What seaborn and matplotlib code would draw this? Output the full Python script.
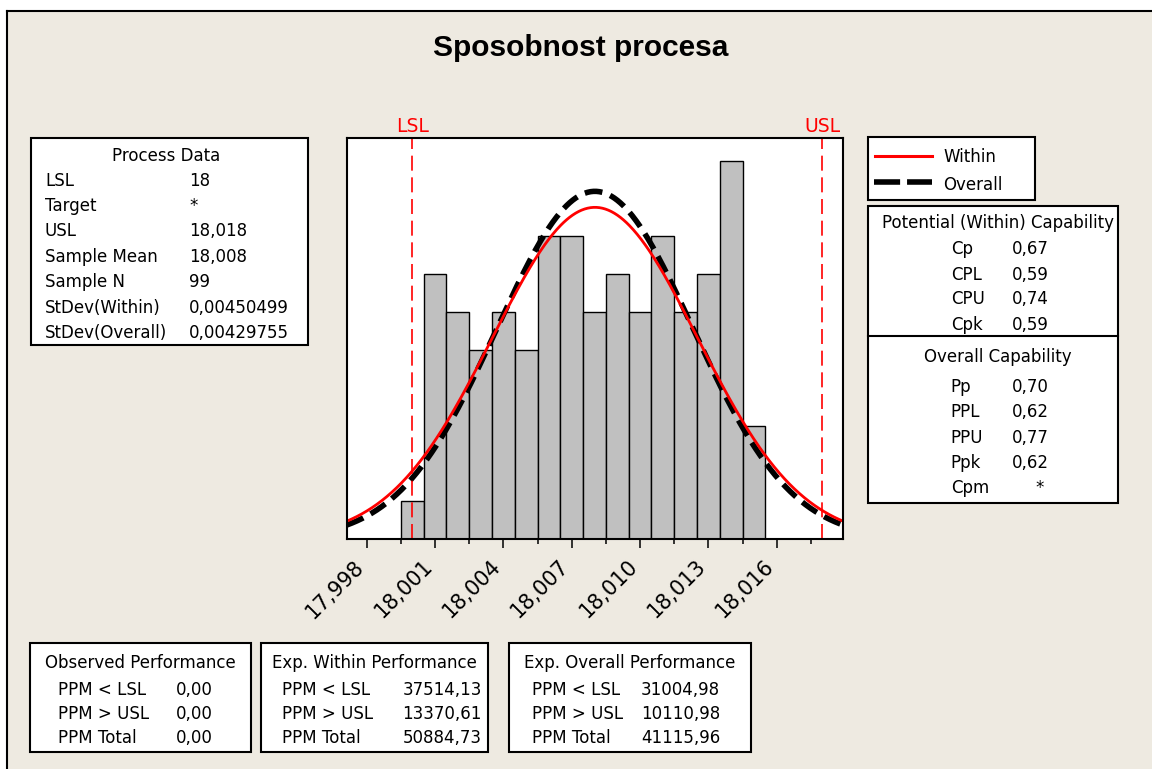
import numpy as np
import pandas as pd
import matplotlib
matplotlib.use("Agg")
import matplotlib.pyplot as plt
import seaborn as sns
from matplotlib.patches import Rectangle
from matplotlib.lines import Line2D
from matplotlib.transforms import ScaledTranslation

# ---- measured data: histogram of the 99 diameters ----
bin_centers = [18.000, 18.001, 18.002, 18.003, 18.004, 18.005, 18.006, 18.007,
               18.008, 18.009, 18.010, 18.011, 18.012, 18.013, 18.014, 18.015]
counts = [1, 7, 6, 5, 6, 5, 8, 8, 6, 7, 6, 8, 6, 7, 10, 3]
bin_width = 0.001

# ---- process statistics ----
lsl = 18.0
usl = 18.018
sample_mean = 18.00802
sample_n = 99
sd_within = 0.00450499
sd_overall = 0.00429755

process_labels = ["LSL", "Target", "USL", "Sample Mean", "Sample N",
                  "StDev(Within)", "StDev(Overall)"]
process_values = [f"{lsl:g}", "*", f"{usl:.3f}", f"{sample_mean:.3f}",
                  f"{sample_n}", f"{sd_within:.8f}", f"{sd_overall:.8f}"]

within_labels = ["Cp", "CPL", "CPU", "Cpk"]
within_values = [0.67, 0.59, 0.74, 0.59]
overall_labels = ["Pp", "PPL", "PPU", "Ppk", "Cpm"]
overall_values = [0.70, 0.62, 0.77, 0.62, None]

ppm_rows = ["PPM < LSL", "PPM > USL", "PPM Total"]
observed_ppm = [0.00, 0.00, 0.00]
within_ppm = [37514.13, 13370.61, 50884.73]
overall_ppm = [31004.98, 10110.98, 41115.96]

major_ticks = [17.998, 18.001, 18.004, 18.007, 18.010, 18.013, 18.016]
minor_ticks = [17.9995, 18.0025, 18.0055, 18.0085, 18.0115, 18.0145, 18.0175]


def comma(s):
    return s.replace(".", ",")


# ---- figure layout (pixel based) ----
W, H = 1152, 769
BG = "#EEEAE1"
FS = 12
plt.rcParams["font.family"] = ["DejaVu Sans"]

fig = plt.figure(figsize=(W / 100, H / 100), dpi=100, facecolor=BG)


def fx(x):
    return x / W


def fy(y):
    return 1 - y / H


ax_l, ax_r, ax_t, ax_b = 347, 843, 138, 539
ax = fig.add_axes([fx(ax_l), fy(ax_b), (ax_r - ax_l) / W, (ax_b - ax_t) / H])
ax.set_facecolor("white")

# histogram
edges = [c - bin_width / 2 for c in bin_centers] + [bin_centers[-1] + bin_width / 2]
hist_df = pd.DataFrame({"value": bin_centers, "count": counts})
sns.histplot(data=hist_df, x="value", weights="count", bins=edges, ax=ax,
             color="#C0C0C0", edgecolor="black", linewidth=1.0, alpha=1.0)

# fitted normal curves scaled to counts
x_lo, x_hi = 17.997135, 18.01891
xs = np.linspace(x_lo, x_hi, 500)


def normal_counts(sd):
    return sample_n * bin_width * np.exp(-0.5 * ((xs - sample_mean) / sd) ** 2) / (sd * np.sqrt(2 * np.pi))


curve_df = pd.DataFrame({"x": xs, "overall": normal_counts(sd_overall),
                         "within": normal_counts(sd_within)})
sns.lineplot(data=curve_df, x="x", y="overall", ax=ax, color="black",
             linewidth=4.0, sort=False, estimator=None)
ax.lines[-1].set_dashes([3.2, 1.5])
ax.lines[-1].set_dash_capstyle("butt")
sns.lineplot(data=curve_df, x="x", y="within", ax=ax, color="red",
             linewidth=2.0, sort=False, estimator=None)

# specification limits
for lim, name in [(lsl, "LSL"), (usl, "USL")]:
    ax.axvline(lim, color="red", linewidth=1.2, dashes=(9, 4))
    ax.annotate(name, xy=(lim, 1), xycoords=("data", "axes fraction"),
                xytext=(0, 4.5), textcoords="offset points", ha="center",
                va="baseline", color="red", fontsize=13.5)

ax.set_xlim(x_lo, x_hi)
ax.set_ylim(0, 10.6)
ax.set_yticks([])
ax.set_xlabel("")
ax.set_ylabel("")
ax.set_xticks(major_ticks)
ax.set_xticks(minor_ticks, minor=True)
ax.set_xticklabels([comma(f"{t:.3f}") for t in major_ticks], rotation=45,
                   ha="right", va="center", rotation_mode="anchor", fontsize=15)
ax.tick_params(axis="x", which="major", length=6.5, width=1.1, pad=11, direction="out")
ax.tick_params(axis="x", which="minor", length=3.6, width=1.1, direction="out")
shift = ScaledTranslation(-6 / 100, 0, fig.dpi_scale_trans)
for lab in ax.get_xticklabels():
    lab.set_transform(lab.get_transform() + shift)
for sp in ax.spines.values():
    sp.set_visible(True)
    sp.set_color("black")
    sp.set_linewidth(1.5)

# ---- outer frame ----
fig.add_artist(Rectangle((0, fy(10)), 1, 10 / H, transform=fig.transFigure,
                         facecolor="white", edgecolor="none"))
fig.add_artist(Rectangle((0, 0), 6 / W, 1, transform=fig.transFigure,
                         facecolor="white", edgecolor="none"))
fig.add_artist(Line2D([fx(7), 1], [fy(11), fy(11)], transform=fig.transFigure,
                      color="black", linewidth=1.5))
fig.add_artist(Line2D([fx(7), fx(7)], [0, fy(11)], transform=fig.transFigure,
                      color="black", linewidth=1.5))


def box(x0, y0, x1, y1):
    fig.add_artist(Rectangle((fx(x0), fy(y1)), (x1 - x0) / W, (y1 - y0) / H,
                             transform=fig.transFigure, facecolor="white",
                             edgecolor="black", linewidth=1.5))


def txt(x, y, s, ha="left", **kw):
    fig.text(fx(x), fy(y), s, ha=ha, va="baseline", fontsize=kw.pop("fontsize", FS), **kw)


# title
fig.text(fx(580.5), fy(55.7), "Sposobnost procesa", ha="center", va="baseline",
         fontsize=21.5, fontweight="bold", family=["Liberation Sans", "DejaVu Sans"])

# process data box
box(31, 138, 308, 345)
txt(166, 161, "Process Data", ha="center")
for i, (lab, val) in enumerate(zip(process_labels, process_values)):
    yb = 185.7 + 25.4 * i
    txt(45, yb, lab)
    txt(189, yb, comma(val))

# legend
box(868, 137, 1035, 200)
fig.add_artist(Line2D([fx(875), fx(932)], [fy(156), fy(156)], transform=fig.transFigure,
                      color="red", linewidth=2.2))
leg_dash = Line2D([fx(874), fx(932)], [fy(182.3), fy(182.3)], transform=fig.transFigure,
                  color="black", linewidth=4.0, dashes=[4.7, 1.25])
leg_dash.set_dash_capstyle("butt")
fig.add_artist(leg_dash)
txt(943, 162.3, "Within")
txt(943, 190, "Overall")

# capability box
box(868, 206, 1118, 503)
fig.add_artist(Line2D([fx(868), fx(1118)], [fy(336), fy(336)], transform=fig.transFigure,
                      color="black", linewidth=1.5))
txt(998, 228.3, "Potential (Within) Capability", ha="center")
for i, (lab, val) in enumerate(zip(within_labels, within_values)):
    yb = 254.5 + 25 * i
    txt(950.7, yb, lab)
    txt(1011.7, yb, comma(f"{val:.2f}"))
txt(998, 361.7, "Overall Capability", ha="center")
for i, (lab, val) in enumerate(zip(overall_labels, overall_values)):
    yb = 391.7 + 25.4 * i
    txt(950.7, yb, lab)
    if val is None:
        txt(1040, yb, "*", ha="center")
    else:
        txt(1011.7, yb, comma(f"{val:.2f}"))

# performance boxes
perf_boxes = [
    (30, 250.6, "Observed Performance", observed_ppm, 58, 176),
    (261, 487.5, "Exp. Within Performance", within_ppm, 282, 402.5),
    (508.7, 751, "Exp. Overall Performance", overall_ppm, 532, 641),
]
for x0, x1, title, vals, lx, vx in perf_boxes:
    box(x0, 643, x1, 751.7)
    txt((x0 + x1) / 2, 668.3, title, ha="center")
    for i, (lab, v) in enumerate(zip(ppm_rows, vals)):
        yb = 695 + 24.2 * i
        txt(lx, yb, lab)
        txt(vx, yb, comma(f"{v:.2f}"))

fig.savefig("out.png", dpi=100, facecolor=BG)
